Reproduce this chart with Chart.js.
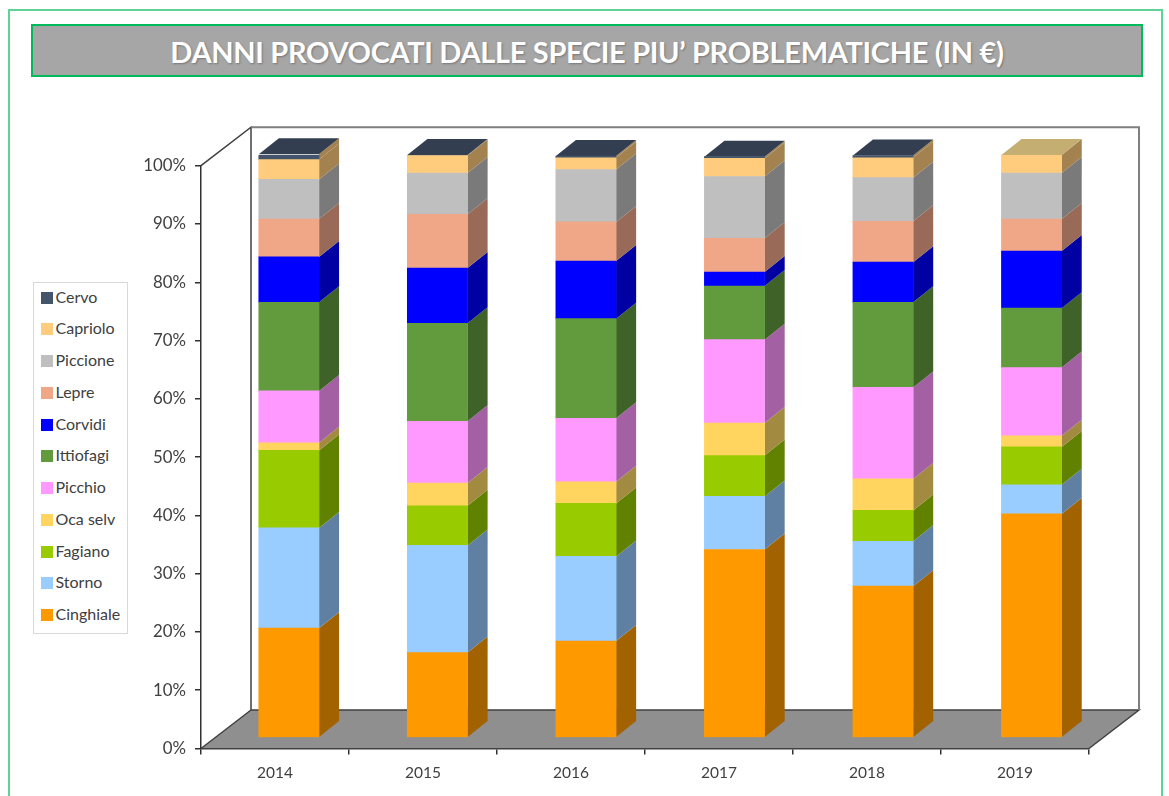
<!DOCTYPE html>
<html>
<head>
<meta charset="utf-8">
<title>Danni provocati</title>
<script src="https://cdn.jsdelivr.net/npm/chart.js@4"></script>
<style>
    html, body { margin: 0; padding: 0; background: #fff; overflow: hidden; width: 1169px; height: 796px; }
    body { filter: blur(0.4px); }
    #frame { position: absolute; left: 8px; top: 9px; width: 1151px; height: 800px; border: 2px solid #5fd396; }
    #title { position: absolute; left: 31px; top: 24px; width: 1108px; height: 49px; background: #a6a6a6; border: 2px solid #00bb5c;
        color: #fff; font: bold 29px/51px Lato, sans-serif; letter-spacing: -0.32px; text-align: center; text-shadow: 1px 1px 2px #777; white-space: nowrap; }
    #chart { position: absolute; left: 0; top: 0; }
    #legend { position: absolute; left: 32.5px; top: 281.5px; width: 93px; height: 350px; border: 1px solid #d9d9d9; background: #fff; }
    .item { position: absolute; left: 7px; height: 18px; font: 16px/18px Lato, sans-serif; color: #404040; white-space: nowrap; }
    .item i { display: inline-block; width: 12px; height: 12px; margin-right: 3px; vertical-align: -1px; }
</style>
</head>
<body>
<div id="frame"></div>
<div id="title">DANNI PROVOCATI DALLE SPECIE PIU’ PROBLEMATICHE (IN €)</div>
<canvas id="chart" width="1169" height="796"></canvas>
<div id="legend"></div>
<script>
const anni = ["2014", "2015", "2016", "2017", "2018", "2019"];

const cinghiale = [18.8, 14.6, 16.6, 32.3, 26.0, 38.4];
const storno = [17.2, 18.4, 14.5, 9.1, 7.7, 5.0];
const fagiano = [13.3, 6.8, 9.1, 7.0, 5.3, 6.5];
const ocaSelv = [1.3, 3.9, 3.7, 5.6, 5.4, 1.9];
const picchio = [8.9, 10.6, 10.9, 14.3, 15.7, 11.7];
const ittiofagi = [15.2, 16.8, 17.1, 9.2, 14.6, 10.2];
const corvidi = [7.8, 9.5, 9.9, 2.4, 6.9, 9.8];
const lepre = [6.5, 9.2, 6.7, 5.8, 7.0, 5.5];
const piccione = [6.8, 7.1, 9.0, 10.6, 7.5, 7.9];
const capriolo = [3.4, 3.0, 2.0, 3.1, 3.4, 3.1];
const cervo = [0.9, 0.1, 0.3, 0.3, 0.4, 0];

// name, values, front, side, top
const serie = [
    ["Cinghiale", cinghiale, "#ff9900", "#a36200", "#c47600"],
    ["Storno", storno, "#99ccff", "#6080a3", "#769dc4"],
    ["Fagiano", fagiano, "#99cc00", "#618200", "#769d00"],
    ["Oca selv", ocaSelv, "#ffd560", "#a38a41", "#c4a44a"],
    ["Picchio", picchio, "#ff99ff", "#a361a3", "#c476c4"],
    ["Ittiofagi", ittiofagi, "#629a3e", "#3f6228", "#4b7630"],
    ["Corvidi", corvidi, "#0000ff", "#0000a3", "#0000c4"],
    ["Lepre", lepre, "#f0a788", "#986a57", "#b88068"],
    ["Piccione", piccione, "#bfbfbf", "#7a7a7a", "#939393"],
    ["Capriolo", capriolo, "#ffcc7d", "#a38250", "#c4ae72"],
    ["Cervo", cervo, "#44546a", "#a38250", "#333f50"]
];

// finta prospettiva: le pareti e le barre sono spostate rispetto agli assi
const wall = { dx: 50, dy: -38.5 };
const bar = { scale: 1.0036, dx: 12.9, dy: -10.8, depthX: 20, depthY: -16 };

const fake3d = {
    id: "fake3d",
    beforeDraw(chart) {
        const { ctx, chartArea: a } = chart;
        ctx.save();
        ctx.fillStyle = "#8f8f8f";
        ctx.beginPath();
        ctx.moveTo(a.left, a.bottom);
        ctx.lineTo(a.left + wall.dx, a.bottom + wall.dy);
        ctx.lineTo(a.right + wall.dx, a.bottom + wall.dy);
        ctx.lineTo(a.right, a.bottom);
        ctx.closePath();
        ctx.fill();

        ctx.lineWidth = 1.5;
        ctx.strokeStyle = "#404040";
        ctx.beginPath();
        ctx.moveTo(a.left, a.top);
        ctx.lineTo(a.left + wall.dx, a.top + wall.dy);
        ctx.lineTo(a.left + wall.dx, a.bottom + wall.dy);
        ctx.lineTo(a.left, a.bottom);
        ctx.moveTo(a.left + wall.dx, a.bottom + wall.dy);
        ctx.lineTo(a.right + wall.dx, a.bottom + wall.dy);
        ctx.lineTo(a.right, a.bottom);
        ctx.stroke();

        ctx.lineWidth = 2;
        ctx.strokeStyle = "#7f7f7f";
        ctx.beginPath();
        ctx.moveTo(a.left + wall.dx, a.top + wall.dy);
        ctx.lineTo(a.right + wall.dx, a.top + wall.dy);
        ctx.lineTo(a.right + wall.dx, a.bottom + wall.dy);
        ctx.stroke();
        ctx.restore();
    },
    beforeDatasetsDraw(chart) {
        const { ctx } = chart;
        ctx.save();
        ctx.transform(bar.scale, 0, 0, 1, bar.dx, bar.dy);

        anni.forEach((anno, i) => {
            let topIndex = -1;
            serie.forEach((s, d) => {
                const el = chart.getDatasetMeta(d).data[i];
                if (s[1][i] <= 0) return;
                topIndex = d;
                const right = el.x + el.width / 2;
                ctx.fillStyle = s[3];
                ctx.beginPath();
                ctx.moveTo(right, el.y);
                ctx.lineTo(right + bar.depthX, el.y + bar.depthY);
                ctx.lineTo(right + bar.depthX, el.base + bar.depthY);
                ctx.lineTo(right, el.base);
                ctx.closePath();
                ctx.fill();
            });
            const el = chart.getDatasetMeta(topIndex).data[i];
            const left = el.x - el.width / 2;
            ctx.fillStyle = serie[topIndex][4];
            ctx.beginPath();
            ctx.moveTo(left, el.y);
            ctx.lineTo(left + bar.depthX, el.y + bar.depthY);
            ctx.lineTo(left + el.width + bar.depthX, el.y + bar.depthY);
            ctx.lineTo(left + el.width, el.y);
            ctx.closePath();
            ctx.fill();
        });
    },
    afterDatasetsDraw(chart) {
        chart.ctx.restore();
    }
};

const chart = new Chart(document.getElementById("chart"), {
    type: "bar",
    plugins: [fake3d],
    data: {
        labels: anni,
        datasets: serie.map((s) => ({
            label: s[0],
            data: s[1],
            backgroundColor: s[2],
            barThickness: 60
        }))
    },
    options: {
        responsive: false,
        animation: false,
        devicePixelRatio: 1,
        layout: { padding: { left: 0, right: 80, top: 165.7, bottom: 0 } },
        plugins: { legend: { display: false }, title: { display: false }, tooltip: { enabled: false } },
        scales: {
            x: {
                stacked: true,
                afterFit: (scale) => { scale.height = 47.5; },
                border: { display: true, color: "#404040", width: 1.5 },
                grid: { drawOnChartArea: false, color: "#303030", tickLength: 6, lineWidth: 1.5 },
                ticks: { color: "#404040", padding: 9, font: { family: "Lato", size: 15.5 } }
            },
            y: {
                stacked: true,
                min: 0,
                max: 100,
                afterFit: (scale) => { scale.width = 201; },
                border: { display: true, color: "#303030", width: 1.5 },
                grid: { drawOnChartArea: false, color: "#303030", tickLength: 6, lineWidth: 1.5 },
                ticks: { stepSize: 10, color: "#404040", padding: 9, font: { family: "Lato", size: 16.8 }, callback: (v) => v + "%" }
            }
        }
    }
});

// legenda html, stesso ordine delle barre dall'alto in basso
const legend = document.getElementById("legend");
[...chart.data.datasets].reverse().forEach((ds, i) => {
    const item = document.createElement("div");
    item.className = "item";
    item.style.top = (5 + i * 31.77) + "px";
    item.innerHTML = `<i style="background:${ds.backgroundColor}"></i>${ds.label}`;
    legend.appendChild(item);
});
</script>
</body>
</html>
